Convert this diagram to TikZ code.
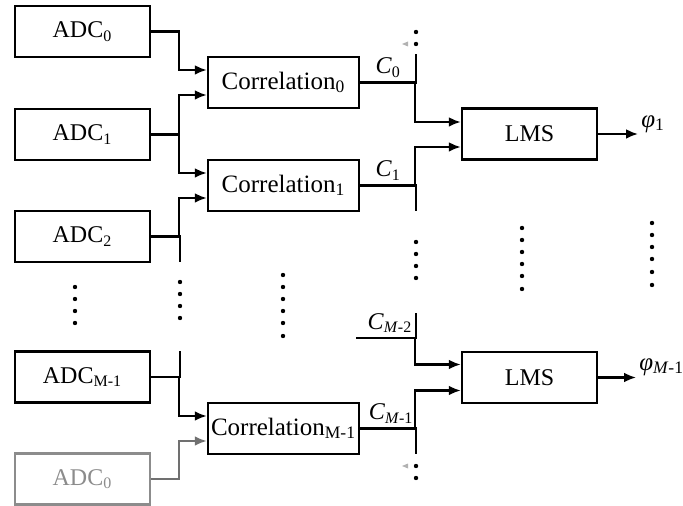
\documentclass[tikz,border=0pt]{standalone}
\usepackage{fontspec}
\setmainfont{Liberation Serif}
\usetikzlibrary{calc,arrows.meta}
\definecolor{adcgray}{HTML}{8C8C8C}

\begin{document}
\begin{tikzpicture}[
		x=0.5pt, y=-0.5pt,
		line width=1.25pt,
		font=\fontsize{12}{14}\selectfont,
		blk/.style={draw, line width=1.25pt, minimum width=67.5pt, minimum height=25.5pt, inner sep=0pt},
		corr/.style={blk, minimum width=75.5pt, font=\fontsize{12.5}{14}\selectfont},
		arr/.style={-{Latex[length=6pt,width=5pt]}},
		lbl/.style={inner sep=1pt},
		outlbl/.style={lbl, anchor=west, font=\fontsize{12.5}{15}\selectfont}
		]
		\useasboundingbox (0,0) rectangle (683,506);
		
		% ADC column
		\node[blk] (adc0) at (82.5,31.5) {ADC\textsubscript{0}};
		\node[blk] (adc1) at (82.5,134.5) {ADC\textsubscript{1}};
		\node[blk] (adc2) at (82.5,236.5) {ADC\textsubscript{2}};
		\node[blk] (adcm) at (82.5,377) {ADC\textsubscript{M-1}};
		\node[blk, draw=adcgray, text=adcgray] (adcg) at (82.5,479) {ADC\textsubscript{0}};
		
		% correlation column
		\node[corr] (corr0) at (283.5,82.5) {Correlation\textsubscript{0}};
		\node[corr] (corr1) at (283.5,185.5) {Correlation\textsubscript{1}};
		\node[corr] (corrm) at (283.5,428.5) {Correlation\textsubscript{M-1}};
		
		% LMS column
		\node[blk] (lms1) at (529.5,134) {LMS};
		\node[blk] (lmsm) at (529.5,377.5) {LMS};
		
		% ADC -> correlation
		\coordinate (s2) at (180,262);
		\coordinate (sm) at (180,351);
		\draw[arr] (adc0.east) -| ($(corr0.west)+(-28,-12.5)$) -- ($(corr0.west)+(0,-12.5)$);
		\draw[arr] (adc1.east) -| ($(corr0.west)+(-28,12.5)$) -- ($(corr0.west)+(0,12.5)$);
		\draw[arr] (adc1.east) -| ($(corr1.west)+(-28,-12.5)$) -- ($(corr1.west)+(0,-12.5)$);
		\draw[arr] (adc2.east) -| ($(corr1.west)+(-28,12.5)$) -- ($(corr1.west)+(0,12.5)$);
		\draw (adc2.east) -| (s2);
		\draw[arr] (adcm.east) -| ($(corrm.west)+(-28,-12.5)$) -- ($(corrm.west)+(0,-12.5)$);
		\draw (adcm.east) -| (sm);
		\draw[arr, adcgray!80!black] (adcg.east) -| ($(corrm.west)+(-28,12.5)$) -- ($(corrm.west)+(0,12.5)$);
		
		% correlation -> LMS
		\coordinate (t0) at (416,54);
		\coordinate (t1) at (416,211);
		\coordinate (t2) at (416,313);
		\coordinate (t3) at (416,454);
		\coordinate (cm2) at (356,338);
		\draw[arr] (corr0.east) -| ($(lms1.west)+(-46,-12)$) -- ($(lms1.west)+(0,-12)$);
		\draw (corr0.east) -| (t0);
		\draw[arr] (corr1.east) -| ($(lms1.west)+(-46,13)$) -- ($(lms1.west)+(0,13)$);
		\draw (corr1.east) -| (t1);
		\draw[arr] (cm2) -| ($(lmsm.west)+(-46,-13)$) -- ($(lmsm.west)+(0,-13)$);
		\draw (cm2) -| (t2);
		\draw[arr] (corrm.east) -| ($(lmsm.west)+(-46,13)$) -- ($(lmsm.west)+(0,13)$);
		\draw (corrm.east) -| (t3);
		
		\node[lbl, above] (lc0) at ($(corr0.east)!0.5!(corr0.east -| t0)+(0,-2)$) {\textit{C}\textsubscript{0}};
		\node[lbl, above] (lc1) at ($(corr1.east)!0.5!(corr1.east -| t1)+(0,-2)$) {\textit{C}\textsubscript{1}};
		\node[lbl, above] (lc2) at ($(cm2)!0.5!(cm2 -| t2)+(4,-2)$) {\textit{C}\textsubscript{\textit{M}-2}};
		\node[lbl, above] (lc3) at ($(corrm.east)!0.5!(corrm.east -| t3)+(3,-2)$) {\textit{C}\textsubscript{\textit{M}-1}};
		
		% outputs
		\node[outlbl] (phi1) at (638,124) {\textit{φ}\textsubscript{1}};
		\node[outlbl] (phim) at (636,367) {\textit{φ}\textsubscript{\textit{M}-1}};
		\draw[arr] (lms1.east) -- (lms1.east -| phi1.west);
		\draw[arr] (lmsm.east) -- (lmsm.east -| phim.west);
		
		% dots
		\foreach \y in {287,299,311,323} \fill (75,\y) circle (1.1pt);
		\foreach \y in {282,294,306,318} \fill (180,\y) circle (1.1pt);
		\foreach \y in {275,287,299,311,323,336} \fill (283,\y) circle (1.1pt);
		\foreach \y in {242,254,266,278} \fill (416,\y) circle (1.1pt);
		\foreach \y in {228,240,252,264,276,289} \fill (522,\y) circle (1.1pt);
		\foreach \y in {223,235,247,259,272,285} \fill (652,\y) circle (1.1pt);
		\foreach \y in {32,44,466,478} \fill (416,\y) circle (1.1pt);
		
		% small marks beside the bus ends
		\foreach \y in {44,466} \fill[gray!60] (402,\y) -- (408,\y-2.5) -- (408,\y+2.5) -- cycle;
		
	\end{tikzpicture}
\end{document}
